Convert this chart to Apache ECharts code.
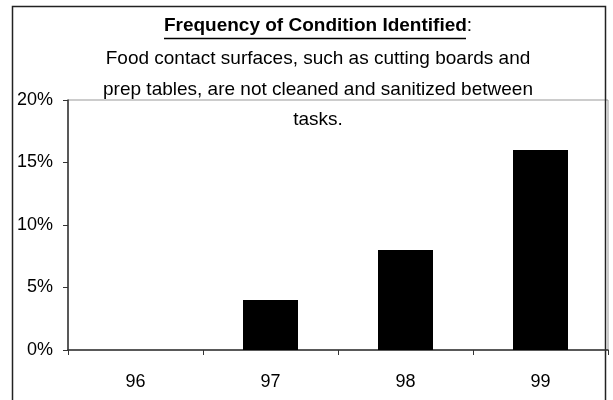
<!DOCTYPE html>
<html>
<head>
<meta charset="utf-8">
<script src="https://cdn.jsdelivr.net/npm/echarts@6/dist/echarts.min.js"></script>
<style>
  html, body { margin: 0; padding: 0; background: #fff; }
  #chart { width: 613px; height: 400px; }
</style>
</head>
<body>
<div id="chart"></div>
<script>
// chart data
const years = ["96", "97", "98", "99"];
const frequency = [0, 4, 8, 16]; // percent
const titleText = "Frequency of Condition Identified";
const subLines = [
  "Food contact surfaces, such as cutting boards and",
  "prep tables, are not cleaned and sanitized between",
  "tasks."
];

const FONT = "'Liberation Sans', Arial, sans-serif";

const chart = echarts.init(document.getElementById("chart"));

const option = {
  animation: false,
  backgroundColor: "#fff",
  title: {
    left: 318,
    top: 14,
    textAlign: "center",
    padding: 0,
    itemGap: 6,
    text: "{b|" + titleText + "}{c|:}",
    textStyle: {
      fontFamily: FONT,
      fontSize: 19,
      lineHeight: 24,
      color: "#000",
      rich: {
        b: { fontFamily: FONT, fontSize: 19, fontWeight: "bold", color: "#000", lineHeight: 24 },
        c: { fontFamily: FONT, fontSize: 19, fontWeight: "normal", color: "#000", lineHeight: 24 }
      }
    },
    subtext: subLines.join("\n"),
    subtextStyle: {
      fontFamily: FONT,
      fontSize: 19,
      lineHeight: 30.5,
      color: "#000"
    }
  },
  graphic: [
    {
      // outer chart frame
      type: "rect",
      shape: { x: 12.5, y: 6.5, width: 593, height: 420 },
      style: { fill: null, stroke: "#222", lineWidth: 1.5 },
      z: 0
    },
    {
      // title underline
      type: "line",
      shape: { x1: 164, y1: 38.5, x2: 466, y2: 38.5 },
      style: { stroke: "#000", lineWidth: 1.5 },
      z: 10
    }
  ],
  grid: {
    left: 68,
    top: 100,
    width: 540,
    height: 250,
    show: true,
    borderColor: "#999",
    borderWidth: 1,
    backgroundColor: "transparent"
  },
  xAxis: {
    type: "category",
    data: years,
    axisLine: { lineStyle: { color: "#333", width: 1.5 } },
    axisTick: { show: true, length: 5, lineStyle: { color: "#333" } },
    axisLabel: {
      margin: 23,
      fontFamily: FONT,
      fontSize: 18,
      color: "#000"
    }
  },
  yAxis: {
    type: "value",
    min: 0,
    max: 20,
    interval: 5,
    axisLine: { show: true, lineStyle: { color: "#333", width: 1.5 } },
    axisTick: { show: true, length: 5, lineStyle: { color: "#333" } },
    splitLine: { show: false },
    axisLabel: {
      formatter: "{value}%",
      margin: 15,
      fontFamily: FONT,
      fontSize: 18,
      color: "#000"
    }
  },
  series: [
    {
      type: "bar",
      data: frequency,
      barWidth: 55,
      itemStyle: { color: "#000" }
    }
  ]
};

chart.setOption(option);
</script>
</body>
</html>
